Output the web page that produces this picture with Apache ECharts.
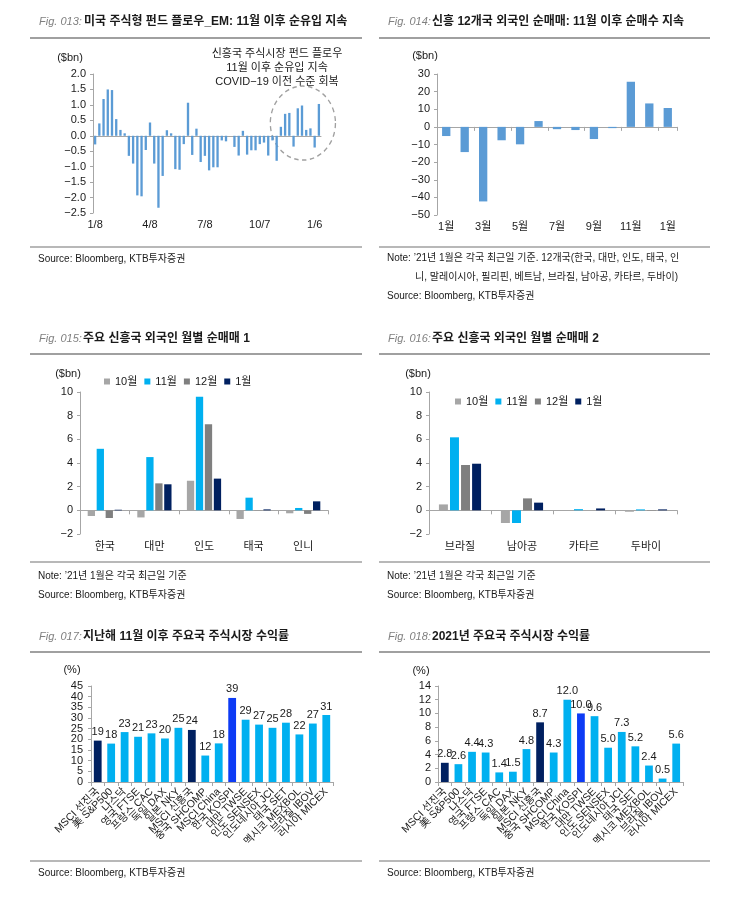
<!DOCTYPE html>
<html><head><meta charset="utf-8">
<script src="https://cdn.jsdelivr.net/npm/echarts@6/dist/echarts.min.js"></script>
<style>html,body{margin:0;padding:0;background:#fff}#c{width:745px;height:917px}</style>
</head><body><div id="c"></div>
<script>
// ---------- DATA ----------
// Fig 013: weekly US-domiciled EM equity fund flows ($bn)
const weeks13 = ['1/8','1/15','1/22','1/29','2/5','2/12','2/19','2/26','3/4','3/11','3/18','3/25','4/1','4/8','4/15','4/22','4/29','5/6','5/13','5/20','5/27','6/3','6/10','6/17','6/24','7/1','7/8','7/15','7/22','7/29','8/5','8/12','8/19','8/26','9/2','9/9','9/16','9/23','9/30','10/7','10/14','10/21','10/28','11/4','11/11','11/18','11/25','12/2','12/9','12/16','12/23','12/30','1/6','1/13'];
const flow13 = [-0.28,0.40,1.19,1.50,1.48,0.54,0.19,0.08,-0.65,-0.90,-1.93,-1.96,-0.46,0.43,-0.90,-2.33,-1.30,0.18,0.08,-1.08,-1.10,-0.27,1.07,-0.62,0.23,-0.85,-0.65,-1.12,-1.02,-1.02,-0.15,-0.18,0.0,-0.36,-0.64,0.16,-0.61,-0.47,-0.47,-0.27,-0.22,-0.64,-0.15,-0.81,0.29,0.71,0.74,-0.35,0.89,0.98,0.19,0.24,-0.38,1.03];

// Fig 014: EM 12 countries foreign net buying ($bn)
const months14 = ['1월','2월','3월','4월','5월','6월','7월','8월','9월','10월','11월','12월','1월'];
const net14 = [-5.2,-14.3,-42.3,-7.6,-9.9,3.3,-1.3,-1.8,-6.9,-0.7,25.6,13.3,10.7];

// Fig 015 / 016: monthly foreign net buying ($bn)
const seriesNames = ['10월','11월','12월','1월'];
const countries15 = ['한국','대만','인도','태국','인니'];
const oct15 = [-0.48,-0.60,2.50,-0.73,-0.25];
const nov15 = [5.20,4.50,9.60,1.07,0.20];
const dec15 = [-0.65,2.28,7.27,0.02,-0.30];
const jan15 = [0.05,2.20,2.68,0.08,0.76];

const countries16 = ['브라질','남아공','카타르','두바이'];
const oct16 = [0.50,-1.07,0.00,-0.12];
const nov16 = [6.17,-1.07,0.10,0.08];
const dec16 = [3.83,1.01,0.00,0.03];
const jan16 = [3.94,0.65,0.16,0.08];

// Fig 017 / 018: market returns (%)
const markets = ['MSCI 선진국','美 S&P500','나스닥','영국 FTSE','프랑스 CAC','독일 DAX','일본 NKY','MSCI 신흥국','중국 SHCOMP','MSCI China','한국 KOSPI','대만 TWSE','인도 SENSEX','인도네시아 JCI','태국 SET','멕시코 MEXBOL','브라질 IBOV','러시아 MICEX'];
const ret17 = [19.4,18.0,23.4,21.2,22.8,20.4,25.4,24.4,12.4,18.1,39.4,29.2,26.9,25.4,27.8,22.3,27.4,31.4];
const ret18 = [2.8,2.6,4.4,4.3,1.4,1.5,4.8,8.7,4.3,12.0,10.0,9.6,5.0,7.3,5.2,2.4,0.5,5.6];
const ticks17 = [0,5,10,15,20,25,30,35,40,45];

// ---------- STYLE ----------
const FONT = '"Liberation Sans", Arial, "Noto Sans CJK KR", sans-serif';
const AX = '#a6a6a6';
const TXT = '#1a1a1a';
const C_OCT = '#a6a6a6', C_NOV = '#00b0f0', C_DEC = '#7f7f7f', C_JAN = '#002060';
const C_BAR = '#5b9bd5';
const minus = s => String(s).replace('-', '−');

function yAxisCfg(grid, min, max, interval, fmt, noLabel) {
  return {type:'value', gridIndex:grid, min, max, interval,
    axisLine:{show:true, lineStyle:{color:AX}},
    axisTick:{show:true, length:3, lineStyle:{color:AX}},
    splitLine:{show:false},
    axisLabel:{show:!noLabel, fontSize:11, color:TXT, fontFamily:FONT, margin:7, formatter: fmt,
      showMinLabel:true, showMaxLabel:true, hideOverlap:false}};
}
function mainX(grid, data, tick) {
  return {type:'category', gridIndex:grid, data, position:'bottom',
    axisLine:{show:true, onZero:true, lineStyle:{color:AX}},
    axisTick:{show:tick, length:4, lineStyle:{color:AX}},
    axisLabel:{show:false}, splitLine:{show:false}};
}
function labelX(grid, data, interval, margin) {
  return {type:'category', gridIndex:grid, data, position:'bottom',
    axisLine:{show:false, onZero:false}, axisTick:{show:false}, splitLine:{show:false},
    axisLabel:{show:true, interval, fontSize:11, color:TXT, fontFamily:FONT, margin}};
}
function rotX(grid, data) {
  return {type:'category', gridIndex:grid, data, position:'bottom',
    axisLine:{show:true, lineStyle:{color:AX}},
    axisTick:{show:true, length:4, lineStyle:{color:AX}},
    splitLine:{show:false},
    axisLabel:{interval:0, rotate:45, fontSize:10.5, color:TXT, fontFamily:FONT, margin:8}};
}
function mktColor(name) {
  if (name === 'MSCI 선진국' || name === 'MSCI 신흥국') return '#002060';
  if (name === '한국 KOSPI') return '#0d3bf5';
  return '#00b0f0';
}
function txt(x, y, text, font, opt) {
  opt = opt || {};
  return {type:'text', x, y, silent:true, style:{text, font, fill: opt.fill || TXT,
    textAlign: opt.align || 'left', textVerticalAlign:'middle', align: opt.align || 'left', verticalAlign:'middle'}};
}
function rule(x1, x2, y, w) {
  return {type:'line', silent:true, shape:{x1, y1:y, x2, y2:y}, style:{stroke:'#a0a0a0', lineWidth:w}};
}
const FIG = 'italic 11px "Liberation Sans", Arial';
const TTL = 'bold 12px "Liberation Sans", "Noto Sans CJK KR"';
const SMALL = '10px "Liberation Sans", "Noto Sans CJK KR"';
const ANN = '11px "Liberation Sans", "Noto Sans CJK KR"';
const UNIT = '11px "Liberation Sans", "Noto Sans CJK KR"';
const TICKF = '11px "Liberation Sans", Arial';

const graphics = [
  // titles
  txt(39, 22, 'Fig. 013:', FIG, {fill:'#808080'}),
  txt(84, 22, '미국 주식형 펀드 플로우_EM: 11월 이후 순유입 지속', TTL),
  txt(388, 22, 'Fig. 014:', FIG, {fill:'#808080'}),
  txt(432, 22, '신흥 12개국 외국인 순매매: 11월 이후 순매수 지속', TTL),
  txt(39, 339, 'Fig. 015:', FIG, {fill:'#808080'}),
  txt(83, 339, '주요 신흥국 외국인 월별 순매매 1', TTL),
  txt(388, 339, 'Fig. 016:', FIG, {fill:'#808080'}),
  txt(432, 339, '주요 신흥국 외국인 월별 순매매 2', TTL),
  txt(39, 637, 'Fig. 017:', FIG, {fill:'#808080'}),
  txt(83, 637, '지난해 11월 이후 주요국 주식시장 수익률', TTL),
  txt(388, 637, 'Fig. 018:', FIG, {fill:'#808080'}),
  txt(432, 637, '2021년 주요국 주식시장 수익률', TTL),
  // rules
  rule(30, 362, 38, 2), rule(379, 710, 38, 2),
  rule(30, 362, 354, 2), rule(379, 710, 354, 2),
  rule(30, 362, 652, 2), rule(379, 710, 652, 2),
  rule(30, 362, 247, 1.5), rule(379, 710, 247, 1.5),
  rule(30, 362, 562, 1.5), rule(379, 710, 562, 1.5),
  rule(30, 362, 861, 1.5), rule(379, 710, 861, 1.5),
  // units
  txt(70, 58, '($bn)', UNIT, {align:'center'}),
  txt(425, 56, '($bn)', UNIT, {align:'center'}),
  txt(68, 374, '($bn)', UNIT, {align:'center'}),
  txt(418, 374, '($bn)', UNIT, {align:'center'}),
  txt(72, 670, '(%)', UNIT, {align:'center'}),
  txt(421, 671, '(%)', UNIT, {align:'center'}),
  // annotation fig13
  txt(277, 54, '신흥국 주식시장 펀드 플로우', ANN, {align:'center'}),
  txt(277, 68, '11월 이후 순유입 지속', ANN, {align:'center'}),
  txt(277, 82, 'COVID−19 이전 수준 회복', ANN, {align:'center'}),
  // notes & sources
  txt(38, 259, 'Source: Bloomberg, KTB투자증권', SMALL),
  txt(387, 258, 'Note: ’21년 1월은 각국 최근일 기준. 12개국(한국, 대만, 인도, 태국, 인', SMALL),
  txt(415, 277, '니, 말레이시아, 필리핀, 베트남, 브라질, 남아공, 카타르, 두바이)', SMALL),
  txt(387, 296, 'Source: Bloomberg, KTB투자증권', SMALL),
  txt(38, 576, 'Note: ’21년 1월은 각국 최근일 기준', SMALL),
  txt(38, 595, 'Source: Bloomberg, KTB투자증권', SMALL),
  txt(387, 576, 'Note: ’21년 1월은 각국 최근일 기준', SMALL),
  txt(387, 595, 'Source: Bloomberg, KTB투자증권', SMALL),
  txt(38, 873, 'Source: Bloomberg, KTB투자증권', SMALL),
  txt(387, 873, 'Source: Bloomberg, KTB투자증권', SMALL)
];

function legendCfg(left, top) {
  return {left, top, data:seriesNames, icon:'rect', itemWidth:6, itemHeight:6, itemGap:7,
    selectedMode:false, textStyle:{fontSize:11, color:TXT, fontFamily:FONT}, padding:0};
}
function monthBar(name, data, color, xi, yi, last) {
  const s = {type:'bar', name, data, xAxisIndex:xi, yAxisIndex:yi, itemStyle:{color}, barGap:'23%'};
  if (last) s.barCategoryGap = last;
  return s;
}

const option = {
  animation:false,
  textStyle:{fontFamily:FONT},
  grid:[
    {left:93, top:74, width:228, height:139},
    {left:437, top:74, width:240, height:141},
    {left:80, top:392, width:248, height:142},
    {left:429, top:392, width:248, height:142},
    {left:91, top:686, width:242, height:96},
    {left:438, top:686, width:245, height:96}
  ],
  legend:[legendCfg(104, 376), legendCfg(455, 396)],
  xAxis:[
    mainX(0, weeks13, false), labelX(0, weeks13, 12, 6),
    mainX(1, months14, true), labelX(1, months14, 1, 6),
    mainX(2, countries15, true), labelX(2, countries15, 0, 7),
    mainX(3, countries16, true), labelX(3, countries16, 0, 7),
    rotX(4, markets), rotX(5, markets)
  ],
  yAxis:[
    yAxisCfg(0, -2.5, 2.0, 0.5, v => minus(v.toFixed(1))),
    yAxisCfg(1, -50, 30, 10, v => minus(v)),
    yAxisCfg(2, -2, 10, 2, v => minus(v)),
    yAxisCfg(3, -2, 10, 2, v => minus(v)),
    yAxisCfg(4, 0, 45, 5, v => v, true),
    yAxisCfg(5, 0, 14, 2, v => v)
  ],
  series:[
    {type:'bar', name:'flow', data:flow13, xAxisIndex:0, yAxisIndex:0, itemStyle:{color:C_BAR}, barCategoryGap:'45%'},
    {type:'bar', name:'net', data:net14, xAxisIndex:2, yAxisIndex:1, itemStyle:{color:C_BAR}, barCategoryGap:'55%'},
    monthBar('10월', oct15, C_OCT, 4, 2), monthBar('11월', nov15, C_NOV, 4, 2),
    monthBar('12월', dec15, C_DEC, 4, 2), monthBar('1월', jan15, C_JAN, 4, 2, '31%'),
    monthBar('10월', oct16, C_OCT, 6, 3), monthBar('11월', nov16, C_NOV, 6, 3),
    monthBar('12월', dec16, C_DEC, 6, 3), monthBar('1월', jan16, C_JAN, 6, 3, '32%'),
    {type:'bar', name:'ret17', xAxisIndex:8, yAxisIndex:4, barCategoryGap:'42%',
      data: ret17.map((v,i)=>({value:v, itemStyle:{color:mktColor(markets[i])}})),
      label:{show:true, position:'top', distance:3, fontSize:11, color:TXT, fontFamily:FONT, formatter:p=>Math.round(p.value)}},
    {type:'bar', name:'ret18', xAxisIndex:9, yAxisIndex:5, barCategoryGap:'43%',
      data: ret18.map((v,i)=>({value:v, itemStyle:{color:mktColor(markets[i])}})),
      label:{show:true, position:'top', distance:3, fontSize:11, color:TXT, fontFamily:FONT, formatter:p=>p.value.toFixed(1)}}
  ],
  graphic: graphics
};

const chart = echarts.init(document.getElementById('c'), null, {renderer:'canvas'});
chart.setOption(option);

// Fig 017 y tick labels (dense ticks: placed through the axis scale so none are auto-hidden)
const extra = [];
ticks17.forEach(v => {
  const p = chart.convertToPixel({xAxisIndex:8, yAxisIndex:4}, [0, v]);
  const gl = option.grid[4].left;
  extra.push(txt(gl - 8, p[1], String(v), TICKF, {align:'right'}));
});

// dashed highlight around the Nov-Jan inflow weeks (positioned from data)
const pA = chart.convertToPixel({xAxisIndex:0, yAxisIndex:0}, [44, 0.41]);
const pB = chart.convertToPixel({xAxisIndex:0, yAxisIndex:0}, [53, 0.41]);
const cx = (pA[0] + pB[0]) / 2 + 3;
const cy = pA[1];
extra.push({
  type:'circle', silent:true, x:cx, y:cy, scaleX:0.88, scaleY:1,
  shape:{cx:0, cy:0, r:37},
  style:{fill:'none', stroke:'#a0a0a0', lineWidth:1.5, lineDash:[5,4]}
});
chart.setOption({graphic: graphics.concat(extra)});
</script>
</body></html>
